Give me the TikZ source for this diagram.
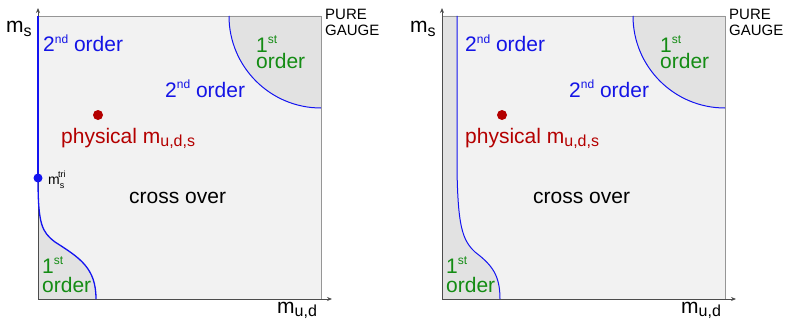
\documentclass[tikz,border=0pt]{standalone}
\usepackage{fontspec}
\setmainfont{Liberation Sans}
\usetikzlibrary{arrows.meta}
\definecolor{panelfill}{RGB}{242,242,242}
\definecolor{shadefill}{RGB}{226,226,226}
\definecolor{framegray}{RGB}{150,150,150}
\definecolor{lineblue}{RGB}{20,20,240}
\definecolor{textblue}{RGB}{20,20,230}
\definecolor{textgreen}{RGB}{20,140,20}
\definecolor{textred}{RGB}{180,0,0}
\newcommand\myup[1]{\raisebox{0.42em}{\fontsize{12}{12}\selectfont #1}}
\newcommand\mydn[1]{\raisebox{-0.16em}{\fontsize{16}{16}\selectfont #1}}
\tikzset{
  lbl/.style={anchor=base west, inner sep=0pt, font=\fontsize{21}{24}\selectfont},
  small lbl/.style={anchor=base west, inner sep=0pt, font=\fontsize{15}{17}\selectfont, align=left},
  axis/.style={draw=gray!60!black, line width=0.8pt, -{Stealth[length=5pt,width=4pt]}},
  boundary/.style={draw=lineblue, line width=1.3pt},
}
\begin{document}
\begin{tikzpicture}[x=1pt, y=-1pt]
\useasboundingbox (0,0) rectangle (789,321);

% ---------- shared panel background (drawn twice) ----------
\foreach \dx in {0,404} {
  \begin{scope}[xshift=\dx pt]
    \fill[panelfill] (38,16) rectangle (321,299);
    \fill[shadefill] (321,16) -- (229,16) arc[start angle=180, end angle=270, radius=92pt] -- cycle;
  \end{scope}
}

% ---------- left panel: shaded first-order region near the origin ----------
\fill[shadefill] (38,178) .. controls (38,225) and (42,232) .. (55,242)
  .. controls (80,258) and (96,268) .. (96,299) -- (38,299) -- cycle;

% ---------- right panel: shaded strip and region near the origin ----------
\fill[shadefill] (442,16) -- (457,16) -- (457,170) .. controls (458,225) and (462,240) .. (475,252)
  .. controls (492,265) and (500,275) .. (500,299) -- (442,299) -- cycle;

% ---------- frames, axes and corner arcs ----------
\foreach \dx in {0,404} {
  \begin{scope}[xshift=\dx pt]
    \draw[framegray, line width=0.8pt] (38,16) -- (321,16) -- (321,299);
    \draw[axis] (38,299) -- (38,8);
    \draw[axis] (38,299) -- (332,299);
    \draw[boundary, line width=1pt] (229,16) arc[start angle=180, end angle=270, radius=92pt];
    \fill[textred] (98,115) circle[radius=5pt];
  \end{scope}
}

% left panel boundaries
\draw[lineblue, line width=2.6pt] (38,16) -- (38,178);
\draw[boundary] (38,178) .. controls (38,225) and (42,232) .. (55,242)
  .. controls (80,258) and (96,268) .. (96,299);
\fill[lineblue] (38,178) circle[radius=4.5pt];

% right panel boundary
\draw[boundary, line width=1pt] (457,16) -- (457,170) .. controls (458,225) and (462,240) .. (475,252)
  .. controls (492,265) and (500,275) .. (500,299);

% ---------- labels, left panel ----------
\node[lbl] (msL) at (6,33) {m\mydn{s}};
\node[small lbl] (pgL) at (325,36) {PURE\\GAUGE};
\node[lbl, text=textblue] (secL1) at (43,52) {2\myup{nd} order};
\node[lbl, text=textgreen, align=left] (firL1) at (256,69) {1\myup{st}\\[-7pt]order};
\node[lbl, text=textblue] (secL2) at (165,97) {2\myup{nd} order};
\node[lbl, text=textred] (physL) at (61,143) {physical m\mydn{u,d,s}};
\node[anchor=base west, inner sep=0pt, font=\fontsize{14}{14}\selectfont] (mtri) at (48,184)
  {m\raisebox{-0.3em}{\fontsize{9}{9}\selectfont s}\hspace{-0.45em}\raisebox{0.45em}{\fontsize{9}{9}\selectfont tri}};
\node[lbl] (crossL) at (129,203) {cross over};
\node[lbl, text=textgreen, align=left] (firL2) at (42,292) {1\myup{st}\\[-5pt]order};
\node[lbl] (mudL) at (277,313) {m\mydn{u,d}};

% ---------- labels, right panel ----------
\node[lbl] (msR) at (410,33) {m\mydn{s}};
\node[small lbl] (pgR) at (729,36) {PURE\\GAUGE};
\node[lbl, text=textblue] (secR1) at (465,52) {2\myup{nd} order};
\node[lbl, text=textgreen, align=left] (firR1) at (660,69) {1\myup{st}\\[-7pt]order};
\node[lbl, text=textblue] (secR2) at (569,97) {2\myup{nd} order};
\node[lbl, text=textred] (physR) at (465,143) {physical m\mydn{u,d,s}};
\node[lbl] (crossR) at (533,203) {cross over};
\node[lbl, text=textgreen, align=left] (firR2) at (446,292) {1\myup{st}\\[-5pt]order};
\node[lbl] (mudR) at (681,313) {m\mydn{u,d}};
\end{tikzpicture}
\end{document}
